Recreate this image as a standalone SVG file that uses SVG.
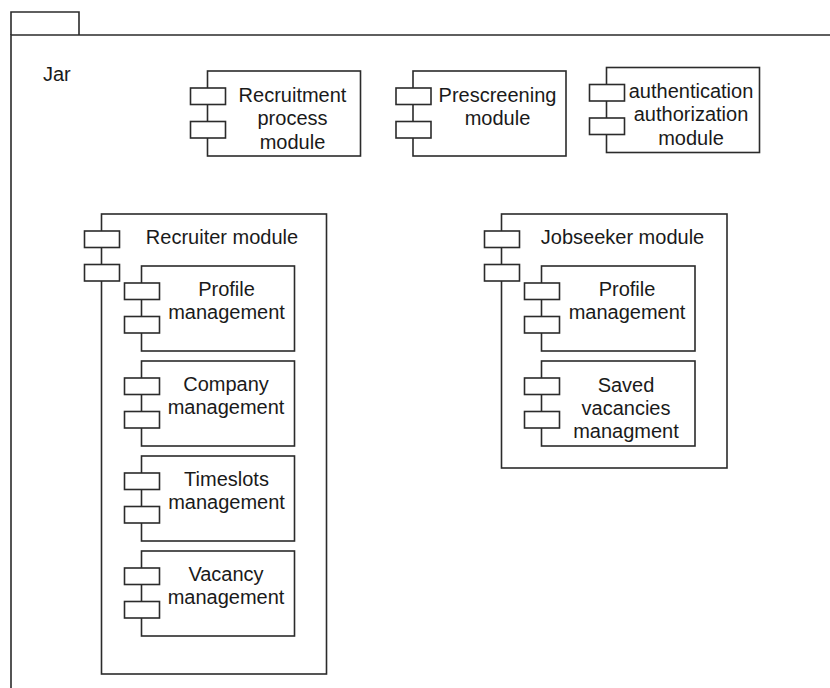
<svg xmlns="http://www.w3.org/2000/svg" width="830" height="688" viewBox="0 0 830 688">
  <style>
    .ln { fill: none; stroke: #2b2b2b; stroke-width: 1.6; }
    .bx { fill: #fff; stroke: #2b2b2b; stroke-width: 1.6; }
    .t { font-family: "Liberation Sans", Arial, sans-serif; font-size: 20px; fill: #1a1a1a; text-anchor: middle; }
    .tl { font-family: "Liberation Sans", Arial, sans-serif; font-size: 20px; fill: #1a1a1a; }
  </style>
  <defs>
    <!-- two port stubs of a component, relative to the body's top-left corner -->
    <g id="ports">
      <rect class="bx" x="-17" y="17" width="35" height="16.5"/>
      <rect class="bx" x="-17" y="50.5" width="35" height="16.5"/>
    </g>
  </defs>
  <rect width="830" height="688" fill="#fff"/>

  <!-- Jar package -->
  <g id="jar">
    <path class="ln" d="M11 35 V12 H79 V35"/>
    <path class="ln" d="M830 35 H11 V688"/>
    <text class="tl" x="43" y="81">Jar</text>
  </g>

  <g id="recruitment-process">
    <rect class="bx" x="207.5" y="71" width="153" height="85"/>
    <use href="#ports" x="207.5" y="71"/>
    <text class="t" x="292.5" y="102">Recruitment</text>
    <text class="t" x="292.5" y="125.3">process</text>
    <text class="t" x="292.5" y="148.6">module</text>
  </g>

  <g id="prescreening">
    <rect class="bx" x="413" y="71" width="153" height="85"/>
    <use href="#ports" x="413" y="71"/>
    <text class="t" x="497.5" y="102">Prescreening</text>
    <text class="t" x="497.5" y="125.3">module</text>
  </g>

  <g id="auth">
    <rect class="bx" x="606.5" y="67.5" width="153" height="85"/>
    <use href="#ports" x="606.5" y="67.5"/>
    <text class="t" x="691" y="98">authentication</text>
    <text class="t" x="691" y="121.3">authorization</text>
    <text class="t" x="691" y="144.6">module</text>
  </g>

  <g id="recruiter-module">
    <rect class="bx" x="101.5" y="214" width="225" height="460"/>
    <use href="#ports" x="101.5" y="214"/>
    <text class="t" x="222" y="243.5">Recruiter module</text>
  </g>

  <g id="recruiter-profile">
    <rect class="bx" x="141.5" y="266" width="153" height="85"/>
    <use href="#ports" x="141.5" y="266"/>
    <text class="t" x="226.5" y="296">Profile</text>
    <text class="t" x="226.5" y="319.3">management</text>
  </g>

  <g id="company">
    <rect class="bx" x="141.5" y="361" width="153" height="85"/>
    <use href="#ports" x="141.5" y="361"/>
    <text class="t" x="226" y="391">Company</text>
    <text class="t" x="226" y="414.3">management</text>
  </g>

  <g id="timeslots">
    <rect class="bx" x="141.5" y="456" width="153" height="85"/>
    <use href="#ports" x="141.5" y="456"/>
    <text class="t" x="226.5" y="486">Timeslots</text>
    <text class="t" x="226.5" y="509.3">management</text>
  </g>

  <g id="vacancy">
    <rect class="bx" x="141.5" y="551" width="153" height="85"/>
    <use href="#ports" x="141.5" y="551"/>
    <text class="t" x="226" y="581">Vacancy</text>
    <text class="t" x="226" y="604.3">management</text>
  </g>

  <g id="jobseeker-module">
    <rect class="bx" x="501.5" y="214" width="225.5" height="254"/>
    <use href="#ports" x="501.5" y="214"/>
    <text class="t" x="622.5" y="243.5">Jobseeker module</text>
  </g>

  <g id="jobseeker-profile">
    <rect class="bx" x="541.5" y="266" width="153.5" height="85"/>
    <use href="#ports" x="541.5" y="266"/>
    <text class="t" x="627" y="296">Profile</text>
    <text class="t" x="627" y="319.3">management</text>
  </g>

  <g id="saved-vacancies">
    <rect class="bx" x="541.5" y="361" width="153.5" height="85"/>
    <use href="#ports" x="541.5" y="361"/>
    <text class="t" x="626" y="391.5">Saved</text>
    <text class="t" x="626" y="414.8">vacancies</text>
    <text class="t" x="626" y="438.1">managment</text>
  </g>

  <g id="connectors"></g>
</svg>
